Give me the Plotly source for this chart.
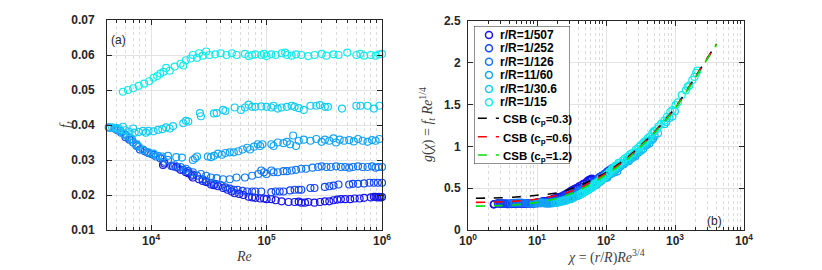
import numpy as np
import plotly.graph_objects as go

# ---------------- data ----------------
labels = ["r/R=1/507", "r/R=1/252", "r/R=1/126", "r/R=11/60", "r/R=1/30.6", "r/R=1/15"]
ratios = [1/507, 1/252, 1/126, 1/60, 1/30.6, 1/15]
colors = ["#1414EB", "#1446F2", "#1478F5", "#14A5F5", "#14CDF0", "#14EBEB"]

re_507 = [12700, 13000, 15500, 16500, 18000, 20000, 21000, 22500, 23000, 26000, 28000, 30000, 33000, 35000,
          38000, 42000, 46000, 50000, 53000, 58000, 63000, 70000, 75000, 80000, 88000, 95000, 100000, 110000,
          120000, 135000, 155000, 175000, 190000, 200000, 215000, 230000, 260000, 290000, 320000, 350000,
          380000, 410000, 440000, 480000, 530000, 580000, 640000, 700000, 800000, 850000, 880000, 910000,
          940000, 970000, 1000000]
f_507 = [0.0286, 0.0290, 0.0282, 0.0280, 0.0272, 0.0265, 0.0262, 0.0255, 0.0250, 0.0245, 0.0240, 0.0237,
         0.0230, 0.0228, 0.0225, 0.0220, 0.0215, 0.0210, 0.0205, 0.0203, 0.0200, 0.0195, 0.0193, 0.0192,
         0.0190, 0.0190, 0.0188, 0.0188, 0.0185, 0.0182, 0.0180, 0.0180, 0.0181, 0.0178, 0.0178, 0.0180,
         0.0178, 0.0180, 0.0182, 0.0182, 0.0185, 0.0187, 0.0188, 0.0188, 0.0188, 0.0190, 0.0190, 0.0192,
         0.0193, 0.0195, 0.0195, 0.0193, 0.0195, 0.0193, 0.0194]

re_252 = [6000, 6500, 7000, 7500, 8000, 8800, 9500, 10500, 12000, 13000, 15000, 17000, 19000, 21000, 23000,
          25000, 28000, 30000, 33000, 36000, 40000, 44000, 48000, 52000, 56000, 62000, 68000, 75000, 80000,
          90000, 110000, 120000, 130000, 140000, 160000, 175000, 190000, 200000, 240000, 260000, 320000,
          350000, 380000, 420000, 520000, 560000, 620000, 700000, 780000, 850000, 920000, 1000000]
f_252 = [0.0365, 0.0358, 0.0350, 0.0340, 0.0330, 0.0325, 0.0320, 0.0315, 0.0305, 0.0295, 0.0283, 0.0278,
         0.0272, 0.0268, 0.0258, 0.0255, 0.0245, 0.0240, 0.0235, 0.0232, 0.0228, 0.0222, 0.0218, 0.0215,
         0.0215, 0.0212, 0.0210, 0.0210, 0.0210, 0.0210, 0.0208, 0.0210, 0.0210, 0.0210, 0.0213, 0.0215,
         0.0215, 0.0215, 0.0220, 0.0220, 0.0223, 0.0225, 0.0227, 0.0230, 0.0230, 0.0232, 0.0232, 0.0233,
         0.0235, 0.0235, 0.0235, 0.0235]

re_126 = [4300, 4800, 5100, 5500, 6000, 6800, 7500, 8500, 9200, 10000, 11000, 12500, 14000, 16000, 18000,
          20000, 23000, 27000, 30000, 33000, 37000, 42000, 48000, 55000, 65000, 75000, 85000, 90000, 95000,
          100000, 110000, 115000, 125000, 140000, 150000, 165000, 180000, 200000, 220000, 250000, 280000,
          300000, 330000, 360000, 400000, 440000, 480000, 520000, 560000, 620000, 680000, 750000, 820000,
          880000, 930000, 1000000]
f_126 = [0.0393, 0.0390, 0.0385, 0.0378, 0.0372, 0.0360, 0.0345, 0.0330, 0.0322, 0.0317, 0.0310, 0.0305,
         0.0300, 0.0285, 0.0280, 0.0275, 0.0265, 0.0260, 0.0255, 0.0250, 0.0248, 0.0245, 0.0245, 0.0250,
         0.0250, 0.0255, 0.0260, 0.0270, 0.0265, 0.0260, 0.0270, 0.0265, 0.0265, 0.0268, 0.0268, 0.0270,
         0.0272, 0.0275, 0.0275, 0.0278, 0.0280, 0.0282, 0.0280, 0.0280, 0.0282, 0.0280, 0.0280, 0.0278,
         0.0280, 0.0282, 0.0280, 0.0280, 0.0282, 0.0278, 0.0280, 0.0280]

re_60 = [4400, 5000, 5400, 5800, 6200, 6600, 7000, 7400, 7800, 8500, 9500, 10500, 11500, 12500, 14000, 16500,
         18500, 23000, 24000, 25000, 31000, 33000, 35000, 38000, 41000, 44000, 48000, 52000, 57000, 62000,
         68000, 72000, 78000, 84000, 88000, 92000, 110000, 115000, 125000, 140000, 150000, 160000, 170000,
         180000, 190000, 210000, 240000, 270000, 300000, 320000, 350000, 380000, 400000, 430000, 470000,
         520000, 570000, 620000, 680000, 750000, 820000, 880000, 950000]
f_60 = [0.0392, 0.0388, 0.0383, 0.0375, 0.0368, 0.0360, 0.0350, 0.0343, 0.0338, 0.0328, 0.0322, 0.0318,
        0.0312, 0.0310, 0.0312, 0.0308, 0.0307, 0.0300, 0.0305, 0.0310, 0.0310, 0.0308, 0.0312, 0.0318,
        0.0315, 0.0320, 0.0322, 0.0322, 0.0325, 0.0330, 0.0335, 0.0330, 0.0338, 0.0345, 0.0340, 0.0345,
        0.0345, 0.0340, 0.0350, 0.0348, 0.0352, 0.0345, 0.0370, 0.0340, 0.0355, 0.0358, 0.0355, 0.0360,
        0.0352, 0.0358, 0.0355, 0.0362, 0.0350, 0.0358, 0.0355, 0.0357, 0.0353, 0.0360, 0.0355, 0.0352,
        0.0357, 0.0355, 0.0360]

re_306 = [4600, 5000, 5300, 5700, 6000, 6500, 7000, 7200, 7800, 8500, 9000, 9500, 10500, 11500, 12500, 13500,
          14500, 15500, 19000, 20000, 21000, 26500, 27000, 35000, 37000, 42000, 44000, 53000, 60000, 65000,
          70000, 75000, 80000, 90000, 100000, 110000, 115000, 125000, 135000, 150000, 165000, 175000,
          190000, 210000, 240000, 270000, 290000, 320000, 340000, 450000, 600000, 650000, 750000, 850000,
          950000]
f_306 = [0.0393, 0.0392, 0.0388, 0.0395, 0.0385, 0.0380, 0.0390, 0.0378, 0.0380, 0.0383, 0.0378, 0.0383,
         0.0382, 0.0386, 0.0388, 0.0393, 0.0390, 0.0397, 0.0405, 0.0412, 0.0410, 0.0434, 0.0425, 0.0433,
         0.0434, 0.0443, 0.0440, 0.0450, 0.0443, 0.0450, 0.0458, 0.0452, 0.0452, 0.0453, 0.0452, 0.0450,
         0.0455, 0.0447, 0.0450, 0.0452, 0.0455, 0.0452, 0.0448, 0.0443, 0.0455, 0.0455, 0.0457, 0.0452,
         0.0452, 0.0447, 0.0455, 0.0455, 0.0455, 0.0447, 0.0455]

re_15 = [5700, 6300, 7000, 7800, 8700, 9600, 10500, 11300, 12000, 12800, 13500, 14500, 16000, 18000, 19000,
         20000, 22000, 23000, 25000, 26000, 28000, 30000, 32000, 36000, 40000, 45000, 50000, 55000, 65000,
         70000, 75000, 80000, 90000, 95000, 100000, 110000, 120000, 135000, 145000, 150000, 165000, 180000,
         200000, 230000, 260000, 300000, 330000, 380000, 420000, 500000, 600000, 650000, 700000, 800000,
         880000, 950000, 1000000]
f_15 = [0.0495, 0.0500, 0.0505, 0.0512, 0.0518, 0.0525, 0.0535, 0.0540, 0.0547, 0.0552, 0.0563, 0.0555,
        0.0567, 0.0575, 0.0570, 0.0585, 0.0590, 0.0600, 0.0592, 0.0605, 0.0598, 0.0610, 0.0600, 0.0602,
        0.0605, 0.0600, 0.0605, 0.0600, 0.0603, 0.0597, 0.0600, 0.0602, 0.0600, 0.0603, 0.0597, 0.0602,
        0.0600, 0.0605, 0.0607, 0.0600, 0.0598, 0.0602, 0.0600, 0.0597, 0.0600, 0.0603, 0.0598, 0.0602,
        0.0600, 0.0607, 0.0600, 0.0603, 0.0598, 0.0600, 0.0598, 0.0602, 0.0603]

series_re = [re_507, re_252, re_126, re_60, re_306, re_15]
series_f = [f_507, f_252, f_126, f_60, f_306, f_15]

csb_chi = [1.3, 2, 3, 5, 10, 20, 30, 50, 100, 200, 500, 1000, 2000, 4000]
csb_g03 = [0.38, 0.382, 0.385, 0.395, 0.415, 0.445, 0.49, 0.56, 0.69, 0.86, 1.17, 1.46, 1.84, 2.23]
csb_g06 = [0.33, 0.333, 0.337, 0.345, 0.37, 0.415, 0.46, 0.535, 0.675, 0.85, 1.165, 1.455, 1.835, 2.225]
csb_g12 = [0.285, 0.288, 0.292, 0.302, 0.33, 0.38, 0.43, 0.51, 0.66, 0.84, 1.16, 1.45, 1.83, 2.22]
csb_labels = ["CSB (c<sub>p</sub>=0.3)", "CSB (c<sub>p</sub>=0.6)", "CSB (c<sub>p</sub>=1.2)"]
csb_colors = ["#000000", "#FF0000", "#00E000"]

left_yticks = [0.01, 0.02, 0.03, 0.04, 0.05, 0.06, 0.07]
right_yticks = [0, 0.5, 1, 1.5, 2, 2.5]
right_yticklabels = ["0", "0.5", "1", "1.5", "2", "2.5"]

# ---------------- figure ----------------
# The page body has an 8 px margin, so the figure is made 8 px smaller and
# positions (given in window pixels) are shifted by that offset.
OFF = 8
W, H = 822 - OFF, 270 - OFF
def px_x(p):
    return (p - OFF) / W
def px_y(p):
    return (270 - p) / H

fig = go.Figure()

for lab, col, re, f in zip(labels, colors, series_re, series_f):
    fig.add_trace(go.Scatter(x=re, y=f, mode="markers", name=lab, showlegend=False,
                             marker=dict(symbol="circle-open", size=7, color=col, line=dict(width=1.2)),
                             cliponaxis=False, xaxis="x", yaxis="y"))

for lab, col, r, re, f in zip(labels, colors, ratios, series_re, series_f):
    re_a = np.array(re, dtype=float)
    f_a = np.array(f, dtype=float)
    chi = r * re_a ** 0.75
    g = f_a * re_a ** 0.25
    fig.add_trace(go.Scatter(x=chi, y=g, mode="markers", name=lab, showlegend=False,
                             marker=dict(symbol="circle-open", size=7, color=col, line=dict(width=1.2)),
                             xaxis="x2", yaxis="y2"))

for lab, col, gv in zip(csb_labels, csb_colors, [csb_g03, csb_g06, csb_g12]):
    fig.add_trace(go.Scatter(x=csb_chi, y=gv, mode="lines", name=lab, showlegend=False,
                             line=dict(color=col, width=1.6, dash="dash", shape="spline", smoothing=0.8),
                             xaxis="x2", yaxis="y2"))

# ---- custom legend (overlay axes x3/y3 on the legend box) ----
fig.add_trace(go.Scatter(x=[0, 1, 1, 0, 0], y=[0, 0, 1, 1, 0], mode="lines", fill="toself",
                         fillcolor="white", line=dict(color="#262626", width=1), hoverinfo="skip",
                         showlegend=False, xaxis="x3", yaxis="y3"))
leg_rows = [0.935, 0.838, 0.741, 0.645, 0.543, 0.447]
fig.add_trace(go.Scatter(x=[0.156] * 6, y=leg_rows, mode="markers", hoverinfo="skip", showlegend=False,
                         marker=dict(symbol="circle-open", size=7, color=colors, line=dict(width=1.5)),
                         xaxis="x3", yaxis="y3"))
csb_rows = [0.331, 0.198, 0.065]
for col, yy in zip(csb_colors, csb_rows):
    fig.add_trace(go.Scatter(x=[0.04, 0.26], y=[yy, yy], mode="lines", hoverinfo="skip", showlegend=False,
                             line=dict(color=col, width=1.6, dash="dash"), xaxis="x3", yaxis="y3"))

leg_font = dict(family="Liberation Sans, Arial", size=12, color="#000000", weight="bold")
annotations = []
for lab, yy in zip(labels, leg_rows):
    annotations.append(dict(x=0.25, y=yy, xref="x3", yref="y3", text=lab, showarrow=False,
                            xanchor="left", yanchor="middle", font=leg_font))
for lab, yy in zip(csb_labels, csb_rows):
    annotations.append(dict(x=0.28, y=yy - 0.015, xref="x3", yref="y3", text=lab, showarrow=False,
                            xanchor="left", yanchor="middle",
                            font=dict(leg_font, size=11.5)))

lab_font = dict(family="Liberation Serif, DejaVu Serif", size=14, color="#404040")
annotations += [
    dict(x=px_x(66), y=px_y(125), xref="paper", yref="paper", text="<i>f<sub>t</sub></i>",
         textangle=-90, showarrow=False, font=lab_font, xanchor="center", yanchor="middle"),
    dict(x=px_x(244), y=px_y(256), xref="paper", yref="paper", text="<i>Re</i>",
         showarrow=False, font=lab_font, xanchor="center", yanchor="middle"),
    dict(x=px_x(427), y=px_y(125), xref="paper", yref="paper",
         text="<i>g</i>(<i>χ</i>) = <i>f<sub>t</sub> Re</i><sup>1/4</sup>",
         textangle=-90, showarrow=False, font=lab_font, xanchor="center", yanchor="middle"),
    dict(x=px_x(606), y=px_y(256), xref="paper", yref="paper",
         text="<i>χ</i> = (<i>r</i>/<i>R</i>)<i>Re</i><sup>3/4</sup>",
         showarrow=False, font=lab_font, xanchor="center", yanchor="middle"),
    dict(x=px_x(118), y=px_y(40), xref="paper", yref="paper", text="(a)", showarrow=False,
         font=dict(family="Liberation Sans, Arial", size=12, color="#262626"),
         xanchor="center", yanchor="middle"),
    dict(x=px_x(714), y=px_y(221), xref="paper", yref="paper", text="(b)", showarrow=False,
         font=dict(family="Liberation Sans, Arial", size=12, color="#262626"),
         xanchor="center", yanchor="middle"),
]

tick_font = dict(family="Liberation Sans, Arial", size=12, color="#262626", weight="bold")
grid_major = "#E3E3E3"
grid_minor = "#DCDCDC"

minor_left = [m * 10 ** e for e in range(3, 6) for m in range(2, 10)]
minor_right = [m * 10 ** e for e in range(0, 4) for m in range(2, 10)]

common_axis = dict(showline=True, linecolor="#262626", linewidth=1, mirror="ticks", ticks="inside",
                   ticklen=5, tickcolor="#262626", tickfont=tick_font, showgrid=True,
                   gridcolor=grid_major, gridwidth=1, zeroline=False, automargin=False)

fig.update_layout(
    width=W, height=H,
    margin=dict(l=0, r=0, t=0, b=0),
    paper_bgcolor="white", plot_bgcolor="white",
    showlegend=False,
    annotations=annotations,
    xaxis=dict(type="log", range=[np.log10(4150), 6], domain=[px_x(107), px_x(382)], anchor="y",
               tickvals=[1e4, 1e5, 1e6],
               ticktext=["10<sup>4</sup>", "10<sup>5</sup>", "10<sup>6</sup>"],
               ticklabelstandoff=0,
               minor=dict(tickvals=minor_left, showgrid=True, griddash="dot", gridcolor=grid_minor,
                          ticks="inside", ticklen=3, tickcolor="#262626"),
               **common_axis),
    yaxis=dict(range=[0.01, 0.07], domain=[px_y(230), px_y(20)], anchor="x",
               tickvals=left_yticks, tickformat=".2f", ticklabelstandoff=9, **common_axis),
    xaxis2=dict(type="log", range=[0, 4], domain=[px_x(468), px_x(744)], anchor="y2",
                tickvals=[1, 10, 100, 1000, 10000],
                ticktext=["10<sup>0</sup>", "10<sup>1</sup>", "10<sup>2</sup>", "10<sup>3</sup>",
                          "10<sup>4</sup>"],
                ticklabelstandoff=0,
                minor=dict(tickvals=minor_right, showgrid=True, griddash="dot", gridcolor=grid_minor,
                           ticks="inside", ticklen=3, tickcolor="#262626"),
                **common_axis),
    yaxis2=dict(range=[0, 2.5], domain=[px_y(230), px_y(21)], anchor="x2",
                tickvals=right_yticks, ticktext=right_yticklabels, ticklabelstandoff=4, **common_axis),
    xaxis3=dict(range=[0, 1], domain=[px_x(474), px_x(570)], anchor="y3", visible=False,
                fixedrange=True),
    yaxis3=dict(range=[0, 1], domain=[px_y(164), px_y(26)], anchor="x3", visible=False,
                fixedrange=True),
)

fig.write_html("out.html")
